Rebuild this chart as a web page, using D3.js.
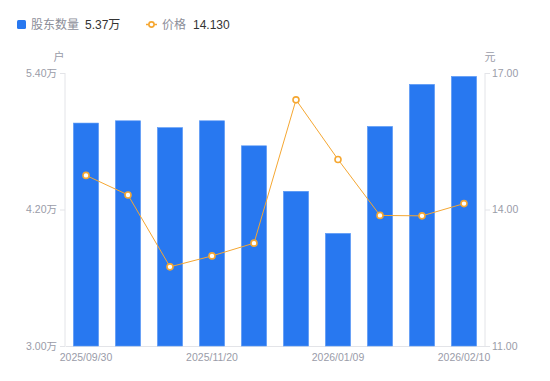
<!DOCTYPE html>
<html>
<head>
<meta charset="utf-8">
<script src="https://cdn.jsdelivr.net/npm/d3@7/dist/d3.min.js"></script>
<style>
  body{margin:0;background:#fff;font-family:"Liberation Sans","Noto Sans CJK SC",sans-serif;}
</style>
</head>
<body>
<div id="chart"></div>
<script>
// data
const dates=["2025/09/30","2025/10/20","2025/10/31","2025/11/20","2025/12/10","2025/12/31","2026/01/09","2026/01/20","2026/01/31","2026/02/10"]
const holders=[4.96,4.98,4.92,4.98,4.76,4.36,3.99,4.93,5.30,5.37]   // 万户
const prices=[14.75,14.32,12.74,12.98,13.26,16.41,15.10,13.87,13.86,14.13]
const leftTicks=[3.00,4.20,5.40]
const rightTicks=[11,14,17]
const shownDates=["2025/09/30","2025/11/20","2026/01/09","2026/02/10"]

const width=550,height=381
const m={top:73,left:65,right:65,bottom:35}
const blue="#2878f0",orange="#f5a732",grey="#9a9ca8",axisCol="#e3e4e8"
const font='"Liberation Sans","Noto Sans CJK SC",sans-serif'

const svg=d3.select("#chart").append("svg")
  .attr("width",width).attr("height",height)
  .style("font-family",font)

const x=d3.scaleBand().domain(dates).range([m.left,width-m.right]).paddingInner(0.4).paddingOuter(0.2)
const yL=d3.scaleLinear().domain([3,5.4]).range([height-m.bottom,m.top])
const yR=d3.scaleLinear().domain([11,17]).range([height-m.bottom,m.top])

// axes
const leftAxis=svg.append("g").attr("transform",`translate(${m.left},0)`)
  .call(d3.axisLeft(yL).tickValues(leftTicks).tickSize(5).tickPadding(3).tickFormat(d=>d.toFixed(2)+"万"))
const rightAxis=svg.append("g").attr("transform",`translate(${width-m.right},0)`)
  .call(d3.axisRight(yR).tickValues(rightTicks).tickSize(5).tickPadding(2).tickFormat(d=>d.toFixed(2)))
const bottomAxis=svg.append("g").attr("transform",`translate(0,${height-m.bottom})`)
  .call(d3.axisBottom(x).tickValues(shownDates).tickSize(0).tickPadding(6))
bottomAxis.selectAll("text").attr("dy","0.9em")

;[leftAxis,rightAxis,bottomAxis].forEach(a=>{
  a.selectAll(".domain").attr("stroke",axisCol)
  a.selectAll("line").attr("stroke",axisCol)
  a.selectAll("text").attr("fill",grey).style("font-size","10.5px").style("font-family",font)
})
rightAxis.select(".domain").attr("d",`M0,${m.top}V${height-m.bottom}`)
leftAxis.select(".domain").attr("d",`M0,${m.top}V${height-m.bottom}`)

// unit labels
svg.append("text").attr("x",59).attr("y",61).attr("text-anchor","middle")
  .attr("fill",grey).style("font-size","11px").text("户")
svg.append("text").attr("x",490).attr("y",61).attr("text-anchor","middle")
  .attr("fill",grey).style("font-size","11px").text("元")

// bars
svg.append("g").selectAll("rect").data(holders).enter().append("rect")
  .attr("x",(d,i)=>x(dates[i]))
  .attr("width",x.bandwidth())
  .attr("y",d=>yL(d))
  .attr("height",d=>yL(3)-yL(d))
  .attr("fill",blue)
  .attr("stroke","#5d9af5").attr("stroke-width",0.6)

// price line
const line=d3.line().x((d,i)=>x(dates[i])+x.bandwidth()/2).y(d=>yR(d))
svg.append("path").datum(prices).attr("d",line)
  .attr("fill","none").attr("stroke",orange).attr("stroke-width",1)
svg.append("g").selectAll("circle").data(prices).enter().append("circle")
  .attr("cx",(d,i)=>x(dates[i])+x.bandwidth()/2)
  .attr("cy",d=>yR(d))
  .attr("r",3)
  .attr("fill","#fff").attr("stroke",orange).attr("stroke-width",1.6)

// legend
const lg=svg.append("g")
lg.append("rect").attr("x",17).attr("y",20).attr("width",9).attr("height",9).attr("rx",1.5).attr("fill",blue)
lg.append("text").attr("x",31).attr("y",29).attr("fill","#8c8e99").style("font-size","12px").text("股东数量")
lg.append("text").attr("x",85).attr("y",29).attr("fill","#333").style("font-size","12px").text("5.37万")
lg.append("line").attr("x1",146).attr("x2",157).attr("y1",24.5).attr("y2",24.5).attr("stroke",orange).attr("stroke-width",1.5)
lg.append("circle").attr("cx",151.5).attr("cy",24.5).attr("r",2.6).attr("fill","#fff").attr("stroke",orange).attr("stroke-width",1.6)
lg.append("text").attr("x",162).attr("y",29).attr("fill","#8c8e99").style("font-size","12px").text("价格")
lg.append("text").attr("x",193).attr("y",29).attr("fill","#333").style("font-size","12px").text("14.130")
</script>
</body>
</html>
